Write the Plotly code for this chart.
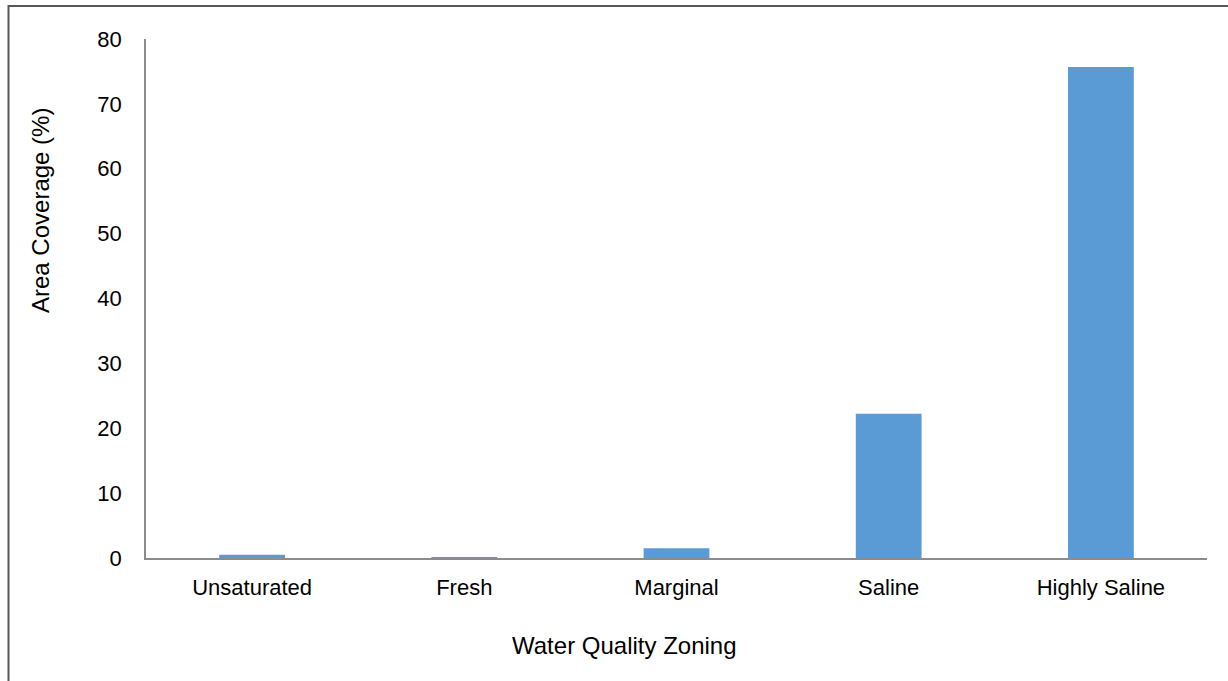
import plotly.graph_objects as go

# Share of area in each groundwater quality zone
zones = ["Unsaturated", "Fresh", "Marginal", "Saline", "Highly Saline"]
coverage_pct = [0.5, 0.1, 1.5, 22.25, 75.7]
y_ticks = [0, 10, 20, 30, 40, 50, 60, 70, 80]

W, H = 1228, 681
ML, MR, MT, MB = 146, 21, 39, 123
PW, PH = W - ML - MR, H - MT - MB


def px_x(p):
    return (p - ML) / PW


def px_y(p):
    return (H - MB - p) / PH


font_family = "Liberation Sans, Arial, sans-serif"
axis_grey = "#8c8c8c"
tick_size = 22
title_size = 24

fig = go.Figure(
    go.Bar(
        x=zones,
        y=coverage_pct,
        marker=dict(color="#5B9BD5", line=dict(width=0)),
    )
)

fig.update_layout(
    width=W,
    height=H,
    margin=dict(l=ML, r=MR, t=MT, b=MB),
    paper_bgcolor="white",
    plot_bgcolor="white",
    bargap=0.69,
    showlegend=False,
    font=dict(family=font_family, size=tick_size, color="#000000"),
    xaxis=dict(
        showline=True,
        linecolor=axis_grey,
        linewidth=1.5,
        showgrid=False,
        ticks="",
        ticklabelstandoff=9,
        tickfont=dict(size=tick_size),
    ),
    yaxis=dict(
        range=[0, 80],
        tickvals=y_ticks,
        showline=True,
        linecolor=axis_grey,
        linewidth=1.5,
        showgrid=False,
        zeroline=False,
        ticks="",
        ticklabelstandoff=18,
        tickfont=dict(size=tick_size),
    ),
    annotations=[
        dict(
            text="Area Coverage (%)",
            xref="paper", yref="paper",
            x=px_x(40), y=px_y(211),
            textangle=-90,
            showarrow=False,
            font=dict(size=title_size),
            xanchor="center", yanchor="middle",
        ),
        dict(
            text="Water Quality Zoning",
            xref="paper", yref="paper",
            x=px_x(624), y=px_y(645),
            showarrow=False,
            font=dict(size=title_size),
            xanchor="center", yanchor="middle",
        ),
    ],
    shapes=[
        dict(
            type="rect",
            xref="paper", yref="paper",
            x0=px_x(8.5), x1=px_x(W + 20),
            y0=px_y(H + 20), y1=px_y(6),
            line=dict(color="#595959", width=2),
            fillcolor="rgba(0,0,0,0)",
            layer="above",
        )
    ],
)

fig.write_html("out.html")
